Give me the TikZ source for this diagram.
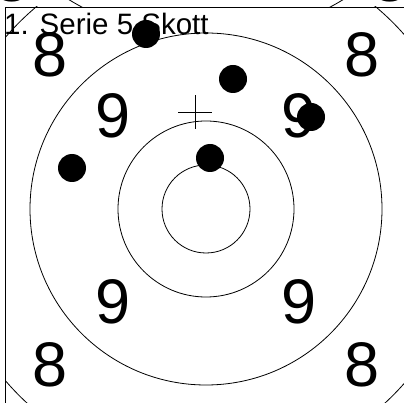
\documentclass[tikz,border=0pt]{standalone}
\usepackage{fontspec}
\setmainfont{Liberation Sans}
\begin{document}
\begin{tikzpicture}[x=1pt,y=-1pt,
  ring/.style={draw=black, line width=0.8pt},
  frame/.style={draw=black, line width=0.9pt},
  bignum/.style={font=\fontsize{63}{63}\selectfont, inner sep=0pt},
  title/.style={font=\fontsize{29.5}{30}\selectfont, inner sep=0pt, anchor=base west},
  shot/.style={circle, fill=black, minimum size=28pt, inner sep=0pt},
  cross/.style={draw=black, line width=0.8pt}]
\useasboundingbox (0,0) rectangle (404,403);
% pieces of the previous panel above the frame
\begin{scope}
  \clip (0,0) rectangle (404,7);
  \draw[ring] (206,-226) circle[radius=264pt];
  \node[bignum] (p8l) at (12,-20.5) {8};
  \node[bignum] (p8r) at (390,-20.5) {8};
\end{scope}
% main panel
\coordinate (c) at (206,209);
\begin{scope}
  \clip (5,7) rectangle (404,403);
  \draw[ring] (c) circle[radius=44pt];
  \draw[ring] (c) circle[radius=88pt];
  \draw[ring] (c) circle[radius=176pt];
  \draw[ring] (c) circle[radius=264pt];
  \node[bignum] (e1) at (50,55) {8};
  \node[bignum] (e2) at (362,55) {8};
  \node[bignum] (e3) at (50,364.5) {8};
  \node[bignum] (e4) at (362,364.5) {8};
  \node[bignum] (n1) at (113,116) {9};
  \node[bignum] (n2) at (299,116) {9};
  \node[bignum] (n3) at (113,302) {9};
  \node[bignum] (n4) at (299,302) {9};
\end{scope}
\draw[frame] (5,403) -- (5,7) -- (404,7);
\node[title] (t) at (4,35) {1. Serie 5 Skott};
% mean point of impact
\coordinate (m) at (195,112);
\draw[cross] ([xshift=-17pt]m) -- ([xshift=17pt]m);
\draw[cross] ([yshift=-17pt]m) -- ([yshift=17pt]m);
% shots
\node[shot] (s1) at (146,34) {};
\node[shot] (s2) at (233,79) {};
\node[shot] (s3) at (311,117) {};
\node[shot] (s4) at (72,168) {};
\node[shot] (s5) at (210,158) {};
\end{tikzpicture}
\end{document}
